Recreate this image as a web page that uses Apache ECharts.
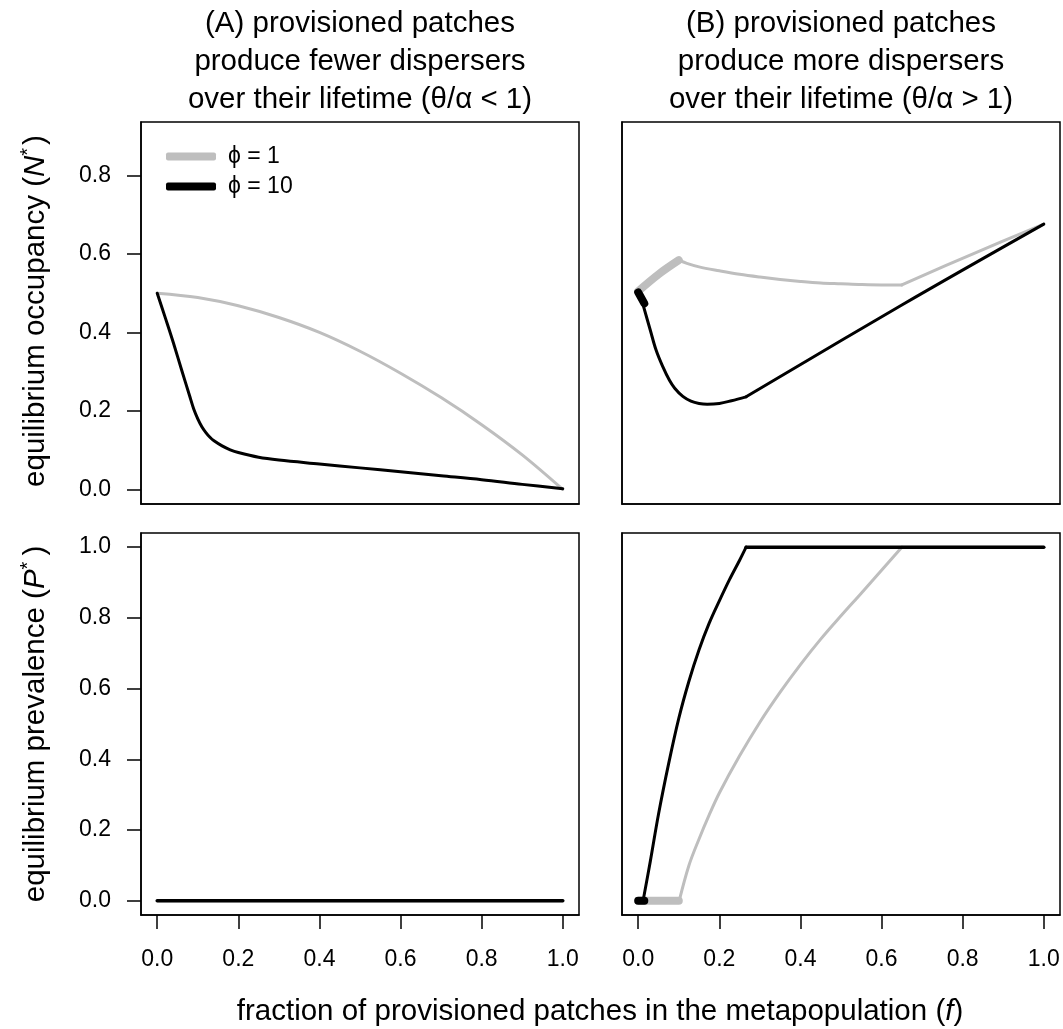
<!DOCTYPE html>
<html>
<head>
<meta charset="utf-8">
<script src="https://cdn.jsdelivr.net/npm/echarts@6/dist/echarts.min.js"></script>
<style>
html,body{margin:0;padding:0;background:#fff;}
#chart{width:1063px;height:1029px;}
</style>
</head>
<body>
<div id="chart"></div>
<script>
// ---- tick labels ----
const X_TICKS = [0, 0.2, 0.4, 0.6, 0.8, 1.0];
const Y_TICKS_TOP = [0, 0.2, 0.4, 0.6, 0.8];
const Y_TICKS_BOTTOM = [0, 0.2, 0.4, 0.6, 0.8, 1.0];

// ---- legend / titles ----
const SERIES_NAMES = ['ϕ = 1', 'ϕ = 10'];
const PANEL_TITLES = [
  '(A) provisioned patches\nproduce fewer dispersers\nover their lifetime (θ/α < 1)',
  '(B) provisioned patches\nproduce more dispersers\nover their lifetime (θ/α > 1)'
];

// ---- Panel A, occupancy N* ----
const A_N_PHI1_F = [0, 0.1, 0.2, 0.3, 0.4, 0.5, 0.6, 0.7, 0.8, 0.9, 1.0];
const A_N_PHI1_Y = [0.500, 0.489, 0.468, 0.438, 0.400, 0.352, 0.296, 0.234, 0.165, 0.088, 0.0];
const A_N_PHI10_F = [0, 0.02, 0.04, 0.06, 0.08, 0.09, 0.10, 0.11, 0.12, 0.13, 0.14, 0.16, 0.18, 0.20, 0.25, 0.30, 0.40, 0.50, 0.60, 0.70, 0.80, 0.90, 1.0];
const A_N_PHI10_Y = [0.500, 0.437, 0.373, 0.305, 0.238, 0.205, 0.180, 0.160, 0.145, 0.133, 0.124, 0.111, 0.101, 0.094, 0.082, 0.075, 0.065, 0.055, 0.045, 0.035, 0.025, 0.013, 0.002];

// ---- Panel A, prevalence P* ----
const A_P_PHI1_F = [0, 1.0];
const A_P_PHI1_Y = [0, 0];
const A_P_PHI10_F = [0, 1.0];
const A_P_PHI10_Y = [0, 0];

// ---- Panel B, occupancy N* ----
const B_N_PHI1_THICK_F = [0, 0.05, 0.1];
const B_N_PHI1_THICK_Y = [0.505, 0.548, 0.584];
const B_N_PHI1_CURVE_F = [0.1, 0.12, 0.15, 0.2, 0.25, 0.3, 0.35, 0.4, 0.45, 0.5, 0.55, 0.6, 0.65];
const B_N_PHI1_CURVE_Y = [0.584, 0.576, 0.567, 0.557, 0.548, 0.541, 0.535, 0.530, 0.526, 0.524, 0.522, 0.521, 0.521];
const B_N_PHI1_LINE_F = [0.65, 0.827, 1.0];
const B_N_PHI1_LINE_Y = [0.521, 0.601, 0.676];
const B_N_PHI10_THICK_F = [0, 0.015];
const B_N_PHI10_THICK_Y = [0.502, 0.474];
const B_N_PHI10_CURVE_F = [0.012, 0.03, 0.044, 0.06, 0.077, 0.09, 0.11, 0.13, 0.15, 0.17, 0.2, 0.23, 0.266];
const B_N_PHI10_CURVE_Y = [0.470, 0.405, 0.355, 0.314, 0.278, 0.258, 0.237, 0.225, 0.219, 0.217, 0.219, 0.226, 0.236];
const B_N_PHI10_LINE_F = [0.266, 0.65, 1.0];
const B_N_PHI10_LINE_Y = [0.236, 0.470, 0.676];

// ---- Panel B, prevalence P* ----
const B_P_PHI1_THICK_F = [0, 0.1];
const B_P_PHI1_THICK_Y = [0, 0];
const B_P_PHI1_CURVE_F = [0.101, 0.125, 0.15, 0.175, 0.2, 0.25, 0.3, 0.35, 0.4, 0.45, 0.5, 0.55, 0.6, 0.65];
const B_P_PHI1_CURVE_Y = [0, 0.100, 0.175, 0.243, 0.305, 0.410, 0.505, 0.590, 0.668, 0.740, 0.806, 0.870, 0.935, 1.0];
const B_P_PHI1_FLAT_F = [0.65, 1.0];
const B_P_PHI1_FLAT_Y = [1.0, 1.0];
const B_P_PHI10_THICK_F = [0, 0.015];
const B_P_PHI10_THICK_Y = [0, 0];
const B_P_PHI10_CURVE_F = [0.012, 0.03, 0.05, 0.075, 0.1, 0.125, 0.15, 0.175, 0.2, 0.225, 0.25, 0.266];
const B_P_PHI10_CURVE_Y = [0, 0.113, 0.245, 0.388, 0.516, 0.621, 0.710, 0.785, 0.848, 0.908, 0.963, 1.0];
const B_P_PHI10_FLAT_F = [0.266, 1.0];
const B_P_PHI10_FLAT_Y = [1.0, 1.0];

const GRAY = '#BEBEBE';
const BLACK = '#000000';
const FONT = '"Liberation Sans", Arial, Helvetica, sans-serif';

function pairs(xs, ys) { return xs.map((x, i) => [x, ys[i]]); }

function mkSeries(name, color, width, gi, xs, ys, smooth) {
  return {
    type: 'line', name: name, xAxisIndex: gi, yAxisIndex: gi,
    data: pairs(xs, ys), showSymbol: false, symbol: 'none',
    smooth: smooth ? 0.35 : false,
    color: color,
    itemStyle: { color: color },
    lineStyle: { color: color, width: width, cap: 'round', join: 'round' },
    silent: true, animation: false
  };
}

const grids = [
  { left: 141, top: 122, width: 438, height: 382 },
  { left: 622, top: 122, width: 438, height: 382 },
  { left: 141, top: 533, width: 438, height: 382 },
  { left: 622, top: 533, width: 438, height: 382 }
].map(g => Object.assign(g, { show: true, borderColor: '#000', borderWidth: 1.5, backgroundColor: 'transparent' }));

const fmt = v => Number(v).toFixed(1);

const xAxes = [0, 1, 2, 3].map(i => ({
  type: 'value', gridIndex: i, min: -0.04, max: 1.04, position: 'bottom',
  axisLine: { show: true, onZero: false, lineStyle: { color: '#000', width: 1.5 } },
  splitLine: { show: false },
  axisTick: { show: i >= 2, inside: false, customValues: X_TICKS, length: 14, lineStyle: { color: '#000', width: 1.5 } },
  axisLabel: { show: i >= 2, inside: false, customValues: X_TICKS, formatter: fmt, margin: 33,
    fontSize: 23, color: '#000', fontFamily: FONT }
}));

const yAxes = [0, 1, 2, 3].map(i => {
  const top = i < 2;
  const left = (i % 2) === 0;
  const ticks = top ? Y_TICKS_TOP : Y_TICKS_BOTTOM;
  return {
    type: 'value', gridIndex: i, position: 'left',
    min: top ? -0.037 : -0.04, max: top ? 0.936 : 1.04,
    axisLine: { show: true, onZero: false, lineStyle: { color: '#000', width: 1.5 } },
    splitLine: { show: false },
    axisTick: { show: left, inside: false, customValues: ticks, length: 14, lineStyle: { color: '#000', width: 1.5 } },
    axisLabel: { show: left, inside: false, customValues: ticks, formatter: fmt, margin: 30,
      fontSize: 23, color: '#000', fontFamily: FONT }
  };
});

const series = [
  // Panel A top
  mkSeries(SERIES_NAMES[0], GRAY, 3, 0, A_N_PHI1_F, A_N_PHI1_Y, true),
  mkSeries(SERIES_NAMES[1], BLACK, 3, 0, A_N_PHI10_F, A_N_PHI10_Y, true),
  // Panel B top
  mkSeries(SERIES_NAMES[0], GRAY, 3, 1, B_N_PHI1_CURVE_F, B_N_PHI1_CURVE_Y, true),
  mkSeries(SERIES_NAMES[0], GRAY, 3, 1, B_N_PHI1_LINE_F, B_N_PHI1_LINE_Y, true),
  mkSeries(SERIES_NAMES[0], GRAY, 8, 1, B_N_PHI1_THICK_F, B_N_PHI1_THICK_Y, true),
  mkSeries(SERIES_NAMES[1], BLACK, 3, 1, B_N_PHI10_CURVE_F, B_N_PHI10_CURVE_Y, true),
  mkSeries(SERIES_NAMES[1], BLACK, 3, 1, B_N_PHI10_LINE_F, B_N_PHI10_LINE_Y, true),
  mkSeries(SERIES_NAMES[1], BLACK, 8, 1, B_N_PHI10_THICK_F, B_N_PHI10_THICK_Y, false),
  // Panel A bottom
  mkSeries(SERIES_NAMES[0], GRAY, 3, 2, A_P_PHI1_F, A_P_PHI1_Y, false),
  mkSeries(SERIES_NAMES[1], BLACK, 3.5, 2, A_P_PHI10_F, A_P_PHI10_Y, false),
  // Panel B bottom
  mkSeries(SERIES_NAMES[0], GRAY, 3, 3, B_P_PHI1_CURVE_F, B_P_PHI1_CURVE_Y, true),
  mkSeries(SERIES_NAMES[0], GRAY, 3, 3, B_P_PHI1_FLAT_F, B_P_PHI1_FLAT_Y, false),
  mkSeries(SERIES_NAMES[0], GRAY, 8, 3, B_P_PHI1_THICK_F, B_P_PHI1_THICK_Y, false),
  mkSeries(SERIES_NAMES[1], BLACK, 3, 3, B_P_PHI10_CURVE_F, B_P_PHI10_CURVE_Y, true),
  mkSeries(SERIES_NAMES[1], BLACK, 3.5, 3, B_P_PHI10_FLAT_F, B_P_PHI10_FLAT_Y, false),
  mkSeries(SERIES_NAMES[1], BLACK, 8, 3, B_P_PHI10_THICK_F, B_P_PHI10_THICK_Y, false)
];

const TS = 29.5;
const titleFont = TS + 'px ' + FONT;

const graphics = [
  { type: 'text', style: { text: PANEL_TITLES[0], x: 360, y: 5, textAlign: 'center', textVerticalAlign: 'top',
      font: titleFont, lineHeight: 38, fill: '#000' } },
  { type: 'text', style: { text: PANEL_TITLES[1], x: 841, y: 5, textAlign: 'center', textVerticalAlign: 'top',
      font: titleFont, lineHeight: 38, fill: '#000' } },
  { type: 'text', x: 36, y: 311, rotation: Math.PI / 2,
    style: { text: '{n|equilibrium occupancy (}{i|N}{s|*}{n|)}', textAlign: 'center', textVerticalAlign: 'middle',
      fill: '#000', fontFamily: FONT, fontSize: TS,
      rich: { n: { fontSize: TS, fontFamily: FONT }, i: { fontSize: TS, fontStyle: 'italic', fontFamily: FONT },
              s: { fontSize: 20, fontFamily: FONT, padding: [0, 3, 16, 0] } } } },
  { type: 'text', x: 36, y: 724, rotation: Math.PI / 2,
    style: { text: '{n|equilibrium prevalence (}{i|P}{s|*}{n|)}', textAlign: 'center', textVerticalAlign: 'middle',
      fill: '#000', fontFamily: FONT, fontSize: TS,
      rich: { n: { fontSize: TS, fontFamily: FONT }, i: { fontSize: TS, fontStyle: 'italic', fontFamily: FONT },
              s: { fontSize: 20, fontFamily: FONT, padding: [0, 6, 16, 0] } } } },
  { type: 'text', x: 600, y: 1012,
    style: { text: '{n|fraction of provisioned patches in the metapopulation (}{i|f}{n|)}', textAlign: 'center', textVerticalAlign: 'middle',
      fill: '#000', fontFamily: FONT, fontSize: TS,
      rich: { n: { fontSize: TS, fontFamily: FONT }, i: { fontSize: TS, fontStyle: 'italic', fontFamily: FONT } } } }
];

const chart = echarts.init(document.getElementById('chart'), null, { renderer: 'canvas' });
chart.setOption({
  animation: false,
  backgroundColor: '#fff',
  grid: grids,
  xAxis: xAxes,
  yAxis: yAxes,
  legend: {
    data: SERIES_NAMES.map(n => ({ name: n, icon: 'roundRect' })),
    orient: 'vertical', left: 161, top: 140,
    itemWidth: 50, itemHeight: 8, itemGap: 7,
    selectedMode: false,
    textStyle: { fontSize: 23, color: '#000', fontFamily: FONT, padding: [0, 0, 0, 7] }
  },
  series: series,
  graphic: graphics
});
</script>
</body>
</html>
